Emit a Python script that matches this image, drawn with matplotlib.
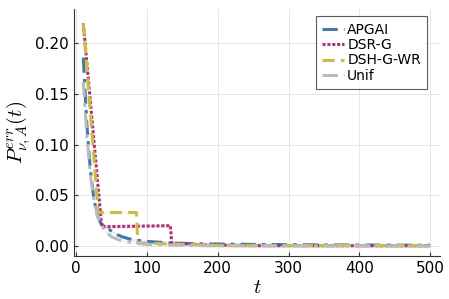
import matplotlib
matplotlib.use("Agg")
import matplotlib.pyplot as plt
import numpy as np

plt.rcParams['mathtext.fontset'] = 'cm'

# values
t_apgai = [10, 15, 20, 25, 30, 35, 45, 55, 65, 80, 100, 130, 180, 250, 350, 500]
p_apgai = [0.186, 0.12, 0.075, 0.046, 0.03, 0.022, 0.017, 0.012, 0.009, 0.006, 0.0045,
           0.003, 0.002, 0.0015, 0.001, 0.0007]

t_dsrg = [10, 36, 133, 135, 180, 250, 500]
p_dsrg = [0.22, 0.019, 0.020, 0.003, 0.001, 0.0003, 0.0002]

t_dshg = [10, 31, 85, 87, 130, 200, 500]
p_dshg = [0.22, 0.033, 0.033, 0.003, 0.002, 0.0005, 0.0003]

t_unif = [10, 15, 20, 25, 30, 40, 50, 60, 80, 100, 150, 200, 500]
p_unif = [0.162, 0.11, 0.07, 0.045, 0.03, 0.015, 0.009, 0.006, 0.003, 0.0015, 0.0005,
          0.0002, 0.0]

band = 0.0015  # half-width of the faint ribbons

fig = plt.figure(figsize=(4.49, 2.99), dpi=100)
ax = fig.add_axes([0.165, 0.144, 0.815, 0.826])

series = [
    (t_apgai, p_apgai, '#4477AA', (0, (5, 2, 1.2, 2)), 'APGAI'),
    (t_dsrg, p_dsrg, '#AA3377', (0, (1, 0.6)), 'DSR-G'),
    (t_dshg, p_dshg, '#CCBB44', (0, (4, 2)), 'DSH-G-WR'),
    (t_unif, p_unif, '#BBBBBB', (0, (5, 2, 1.2, 2)), 'Unif'),
]
for t, p, c, ls, lab in series:
    p = np.array(p)
    ax.fill_between(t, p - band, p + band, color=c, alpha=0.12, linewidth=0)
    ax.plot(t, p, color=c, linestyle=ls, linewidth=2.2, label=lab)

ax.set_xlim(-3, 514)
ax.set_ylim(-0.0099, 0.234)
ax.set_xticks([0, 100, 200, 300, 400, 500])
ax.set_yticks([0.0, 0.05, 0.10, 0.15, 0.20])
ax.set_yticklabels(['0.00', '0.05', '0.10', '0.15', '0.20'])
ax.tick_params(direction='in', length=3, labelsize=11, color='#333333')
ax.grid(True, color='#e6e6e6', linewidth=0.7)
for s in ['top', 'right']:
    ax.spines[s].set_visible(False)
for s in ['left', 'bottom']:
    ax.spines[s].set_color('#333333')

ax.set_xlabel('$t$', fontsize=15, labelpad=1)
ax.set_ylabel(r'$P^{err}_{\nu,A}(t)$', fontsize=15, labelpad=2)

leg = ax.legend(loc='upper right', fontsize=10, frameon=True, fancybox=False,
                edgecolor='#333333', handlelength=1.6, handletextpad=0.2,
                borderpad=0.45, labelspacing=0.1, borderaxespad=0,
                bbox_to_anchor=(0.965, 0.97))
leg.get_frame().set_linewidth(0.8)

fig.savefig('out.png', dpi=100)
